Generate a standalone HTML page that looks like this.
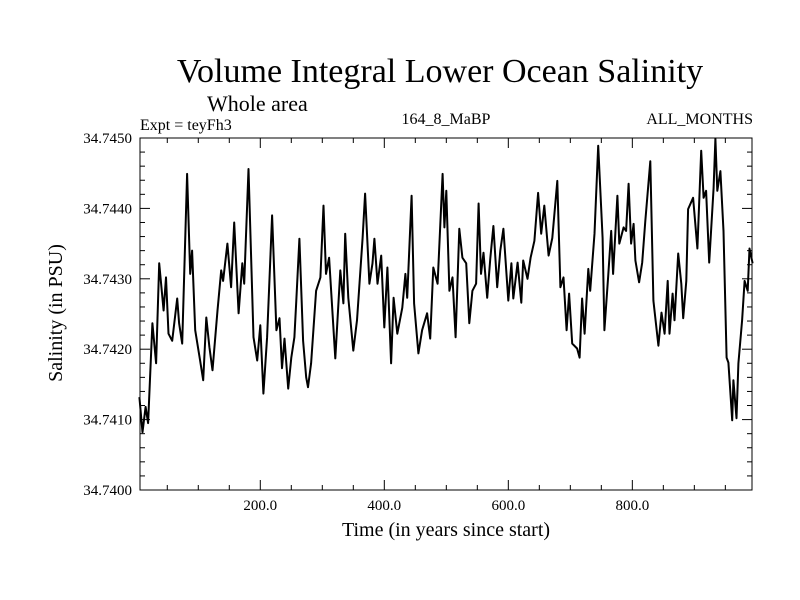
<!DOCTYPE html>
<html><head><meta charset="utf-8"><style>
body{margin:0;background:#fff;}
svg{display:block;font-family:"Liberation Serif",serif;}
</style></head><body>
<svg id="chart" width="800" height="600">
<text x="440" y="82" font-size="34" text-anchor="middle">Volume Integral Lower Ocean Salinity</text>
<text x="207" y="111" font-size="22">Whole area</text>
<text x="140" y="130" font-size="16">Expt = teyFh3</text>
<text x="446" y="124" font-size="16" text-anchor="middle">164_8_MaBP</text>
<text x="753" y="124" font-size="16" text-anchor="end">ALL_MONTHS</text>
<text transform="translate(62,313) rotate(-90)" font-size="20" text-anchor="middle">Salinity (in PSU)</text>
<text x="446" y="536" font-size="20" text-anchor="middle">Time (in years since start)</text>
<g id="axes"></g>
<path id="line" fill="none" stroke="#000" stroke-width="2" stroke-linejoin="round"></path>
<rect x="140" y="138" width="612" height="352" fill="none" stroke="#000" stroke-width="1"/>
</svg>
<script>
const years=[5,10,15,19,26,32,37,44,48,52,58,66,69,74,82,87,90,95,103,108,113,118,123,131,137,140,147,153,158,165,171,174,181,189,195,200,205,211,219,226,231,235,239,245,250,255,258,263,269,274,277,282,290,297,302,306,311,321,329,334,337,342,350,356,365,369,376,381,384,389,395,400,405,411,415,421,429,434,437,444,448,455,461,469,474,479,486,494,497,500,505,510,515,521,526,532,537,542,548,552,556,560,566,571,576,582,587,592,600,605,608,615,621,624,631,636,642,648,653,658,665,671,679,684,689,694,698,703,711,715,719,723,729,732,739,745,752,755,761,766,769,776,779,786,790,794,798,802,805,811,816,821,829,834,842,847,852,857,860,865,868,874,879,882,887,890,898,905,911,915,919,924,931,934,937,942,947,952,955,961,963,968,971,977,981,986,989,994];
const salinity=[34.74132,34.74082,34.74118,34.74095,34.74237,34.74180,34.74322,34.74255,34.74302,34.74222,34.74212,34.74272,34.74237,34.74208,34.74449,34.74307,34.74340,34.74227,34.74184,34.74156,34.74245,34.74203,34.74170,34.74255,34.74312,34.74297,34.74350,34.74288,34.74380,34.74251,34.74322,34.74293,34.74456,34.74217,34.74184,34.74234,34.74137,34.74217,34.74390,34.74227,34.74244,34.74173,34.74215,34.74144,34.74188,34.74217,34.74269,34.74357,34.74212,34.74160,34.74146,34.74180,34.74283,34.74302,34.74404,34.74307,34.74330,34.74187,34.74312,34.74265,34.74364,34.74273,34.74198,34.74241,34.74358,34.74421,34.74293,34.74322,34.74357,34.74293,34.74333,34.74231,34.74316,34.74180,34.74273,34.74222,34.74259,34.74307,34.74273,34.74418,34.74265,34.74194,34.74227,34.74251,34.74215,34.74316,34.74293,34.74449,34.74373,34.74425,34.74283,34.74302,34.74217,34.74371,34.74330,34.74322,34.74237,34.74283,34.74293,34.74407,34.74307,34.74337,34.74273,34.74329,34.74375,34.74288,34.74340,34.74371,34.74269,34.74322,34.74272,34.74323,34.74266,34.74326,34.74300,34.74330,34.74354,34.74422,34.74364,34.74404,34.74333,34.74358,34.74439,34.74288,34.74302,34.74227,34.74279,34.74208,34.74201,34.74188,34.74272,34.74222,34.74314,34.74283,34.74364,34.74489,34.74358,34.74227,34.74302,34.74368,34.74307,34.74418,34.74350,34.74373,34.74368,34.74435,34.74350,34.74378,34.74326,34.74295,34.74323,34.74382,34.74467,34.74269,34.74205,34.74252,34.74222,34.74297,34.74222,34.74279,34.74241,34.74336,34.74293,34.74244,34.74297,34.74399,34.74415,34.74343,34.74482,34.74415,34.74425,34.74323,34.74429,34.74499,34.74425,34.74453,34.74368,34.74188,34.74181,34.74099,34.74156,34.74102,34.74180,34.74241,34.74297,34.74283,34.74343,34.74322];
const yTickLabels=["34.7400","34.7410","34.7420","34.7430","34.7440","34.7450"];
const xTickLabels=["200.0","400.0","600.0","800.0"];
const X0=140,X1=752,Y0=490,Y1=138,xMin=6,xMax=993,yMin=34.74,yMax=34.745;
const xs=v=>X0+(v-xMin)/(xMax-xMin)*(X1-X0);
const ys=v=>Y0-(v-yMin)/(yMax-yMin)*(Y0-Y1);
const NS="http://www.w3.org/2000/svg";
const g=document.getElementById('axes');
function ln(x1,y1,x2,y2){const l=document.createElementNS(NS,'line');l.setAttribute('x1',x1);l.setAttribute('y1',y1);l.setAttribute('x2',x2);l.setAttribute('y2',y2);l.setAttribute('stroke','#000');g.appendChild(l);return l;}
for(let t=50;t<xMax;t+=50){const x=xs(t),L=(t%200===0)?10:5;
const a=ln(x,Y0,x,Y0-L);
const b=ln(x,Y1,x,Y1+L);}
xTickLabels.forEach(s=>{const t=document.createElementNS(NS,'text');t.setAttribute('x',xs(parseFloat(s)));t.setAttribute('y',510);t.setAttribute('font-size','15');t.setAttribute('text-anchor','middle');t.textContent=s;


g.appendChild(t);});
for(let i=0;i<=25;i++){const v=yMin+i*0.0002,y=ys(v),L=(i%5===0)?10:5;
const a=ln(X0,y,X0+L,y);
const b=ln(X1,y,X1-L,y);}
yTickLabels.forEach(s=>{const t=document.createElementNS(NS,'text');t.setAttribute('x',132);t.setAttribute('y',ys(parseFloat(s))+5);t.setAttribute('font-size','15');t.setAttribute('text-anchor','end');t.textContent=s;


g.appendChild(t);});
document.getElementById('line').setAttribute('d',years.map((yr,i)=>(i?'L':'M')+xs(yr).toFixed(1)+','+ys(salinity[i]).toFixed(1)).join(''));
</script>
</body></html>
